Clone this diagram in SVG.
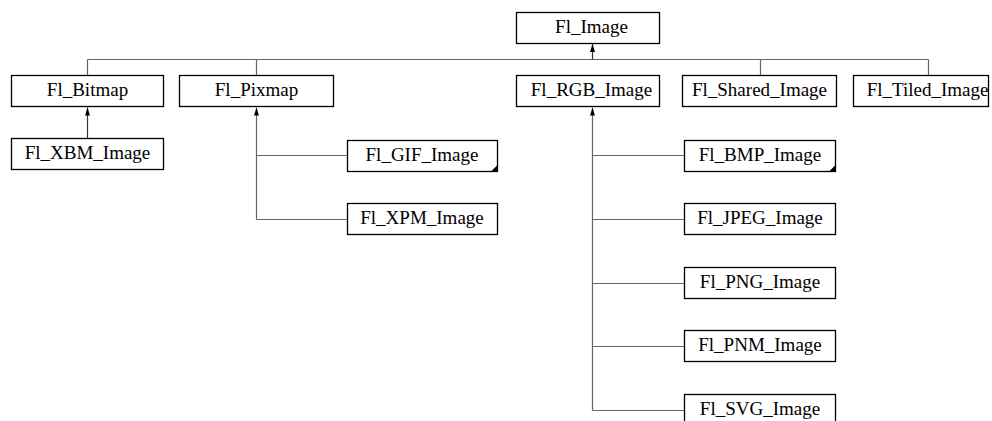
<svg xmlns="http://www.w3.org/2000/svg" width="992" height="421" viewBox="0 0 992 421">
<defs>
<style>
.box{fill:#fff;stroke:#000;stroke-width:1.3}
.lbl{font-family:"Liberation Serif","Times New Roman",serif;font-size:19px;fill:#000;text-anchor:middle}
.edge{fill:none;stroke:#666;stroke-width:1.2}
.more{fill:#000}
</style>
<marker id="arr" viewBox="0 0 8 6" refX="8" refY="3" markerWidth="8" markerHeight="6" markerUnits="userSpaceOnUse" orient="auto">
<path d="M0,0.5 L8,3 L0,5.5 Z" fill="#000"/>
</marker>
</defs>
<rect width="992" height="421" fill="#fff"/>
<g id="connectors">
<path class="edge" d="M87.5,59.5 H928.5"/>
<path class="edge" d="M87.5,59.5 V75 M256.5,59.5 V75 M760.5,59.5 V75 M928.5,59.5 V75"/>
<path class="edge" d="M592.5,59.5 V44" marker-end="url(#arr)" style="stroke:#333"/>
<path class="edge" d="M87.5,138 V107.5" marker-end="url(#arr)" style="stroke:#333"/>
<path class="edge" d="M256.5,219.5 V107.5" marker-end="url(#arr)"/>
<path class="edge" d="M256.5,155.5 H347 M256.5,219.5 H347"/>
<path class="edge" d="M592.5,410.5 V107.5" marker-end="url(#arr)"/>
<path class="edge" d="M592.5,155.5 H684 M592.5,219.5 H684 M592.5,283.5 H684 M592.5,346.5 H684 M592.5,410.5 H684"/>
</g>
<g id="Fl_Image"><rect class="box" x="516.5" y="12.5" width="143" height="31"/><text class="lbl" x="591.5" y="32.5">Fl_Image</text></g>
<g id="Fl_Bitmap"><rect class="box" x="11.5" y="75.5" width="152" height="31"/><text class="lbl" x="87.5" y="96">Fl_Bitmap</text></g>
<g id="Fl_Pixmap"><rect class="box" x="179.5" y="75.5" width="154" height="31"/><text class="lbl" x="256.5" y="96">Fl_Pixmap</text></g>
<g id="Fl_RGB_Image"><rect class="box" x="516.5" y="75.5" width="143" height="31"/><text class="lbl" x="591.5" y="96">Fl_RGB_Image</text></g>
<g id="Fl_Shared_Image"><rect class="box" x="682.5" y="75.5" width="154" height="31"/><text class="lbl" x="759.5" y="96">Fl_Shared_Image</text></g>
<g id="Fl_Tiled_Image"><rect class="box" x="853.5" y="75.5" width="135" height="31"/><text class="lbl" x="927.5" y="96">Fl_Tiled_Image</text></g>
<g id="Fl_XBM_Image"><rect class="box" x="11.5" y="138.5" width="152" height="31"/><text class="lbl" x="87.5" y="159">Fl_XBM_Image</text></g>
<g id="Fl_GIF_Image"><rect class="box" x="347.5" y="140.5" width="150" height="31"/><path class="more" d="M497.5,165 V171.5 H491 Z"/><text class="lbl" x="422" y="161">Fl_GIF_Image</text></g>
<g id="Fl_XPM_Image"><rect class="box" x="347.5" y="203.5" width="150" height="31"/><text class="lbl" x="422" y="224">Fl_XPM_Image</text></g>
<g id="Fl_BMP_Image"><rect class="box" x="684.5" y="140.5" width="151" height="31"/><path class="more" d="M835.5,165 V171.5 H829 Z"/><text class="lbl" x="760" y="161">Fl_BMP_Image</text></g>
<g id="Fl_JPEG_Image"><rect class="box" x="684.5" y="203.5" width="151" height="31"/><text class="lbl" x="760" y="224">Fl_JPEG_Image</text></g>
<g id="Fl_PNG_Image"><rect class="box" x="684.5" y="267.5" width="151" height="31"/><text class="lbl" x="760" y="288">Fl_PNG_Image</text></g>
<g id="Fl_PNM_Image"><rect class="box" x="684.5" y="330.5" width="151" height="31"/><text class="lbl" x="760" y="351">Fl_PNM_Image</text></g>
<g id="Fl_SVG_Image"><rect class="box" x="684.5" y="394.5" width="151" height="31"/><text class="lbl" x="760" y="415">Fl_SVG_Image</text></g>
</svg>
